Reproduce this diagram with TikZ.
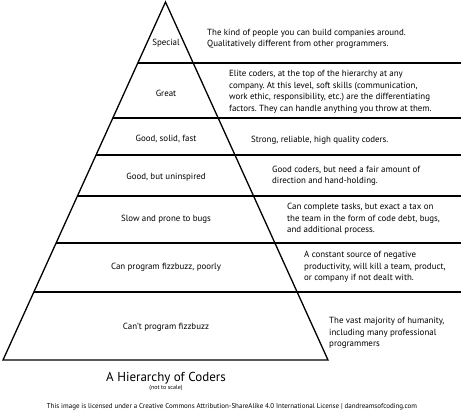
\documentclass[tikz,border=0pt]{standalone}
\usepackage{fontspec}
\setmainfont{PT Sans}
\usetikzlibrary{calc}
\frenchspacing
\begin{document}
\begin{tikzpicture}[x=1pt,y=-1pt,
  line/.style={line width=1.3pt},
  lvl/.style={font=\fontsize{8.9}{11.5}\selectfont, inner sep=0pt},
  desc/.style={font=\fontsize{8.9}{11.5}\selectfont\frenchspacing, inner sep=0pt, align=left, anchor=west}]
\path[use as bounding box] (0,0) rectangle (461,415);
\coordinate (A) at (165.5,2);
\coordinate (BL) at (3,360);
\coordinate (BR) at (328,360);
\draw[line, line join=miter] (BL) -- (A) -- (BR) -- cycle;
% horizontal dividers
\coordinate (L1) at ($(A)!0.1704!(BL)$);
\coordinate (L2) at ($(A)!0.3240!(BL)$);
\coordinate (L3) at ($(A)!0.4274!(BL)$);
\coordinate (L4) at ($(A)!0.5419!(BL)$);
\coordinate (L5) at ($(A)!0.6732!(BL)$);
\coordinate (L6) at ($(A)!0.8101!(BL)$);
\foreach \c in {L1,L2,L3,L4,L5,L6}{
  \draw[line] (\c) -- (\c -| 461,0);
}
% level labels
\node[lvl] (special) at (166,43) {Special};
\node[lvl] (great) at (166,93) {Great};
\node[lvl] (gsf) at (166,139) {Good, solid, fast};
\node[lvl] (gbu) at (166,177) {Good, but uninspired};
\node[lvl] (slow) at (166,219) {Slow and prone to bugs};
\node[lvl] (poor) at (166,267) {Can program fizzbuzz, poorly};
\node[lvl] (cant) at (166,327) {Can't program fizzbuzz};
% descriptions
\node[desc] (d1) at (207,39) {The kind of people you can build companies around.\\Qualitatively different from other programmers.};
\node[desc] (d2) at (229,92) {Elite coders, at the top of the hierarchy at any\\company. At this level, soft skills (communication,\\work ethic, responsibility, etc.) are the differentiating\\factors. They can handle anything you throw at them.};
\node[desc] (d3) at (251,140) {Strong, reliable, high quality coders.};
\node[desc] (d4) at (272,176) {Good coders, but need a fair amount of\\direction and hand-holding.};
\node[desc] (d5) at (287,219) {Can complete tasks, but exact a tax on\\the team in the form of code debt, bugs,\\and additional process.};
\node[desc] (d6) at (304,267) {A constant source of negative\\productivity, will kill a team, product,\\or company if not dealt with.};
\node[desc] (d7) at (329,333) {The vast majority of humanity,\\including many professional\\programmers};
% title
\node[inner sep=0pt, font=\fontsize{13}{14}\selectfont] (title) at (166,378) {A Hierarchy of Coders};
\node[inner sep=0pt, font=\fontsize{6}{6}\selectfont] (scale) at (166,388.5) {(not to scale)};
\node[inner sep=0pt, font=\fontsize{7}{7}\selectfont] (lic) at (232,407) {This image is licensed under a Creative Commons Attribution-ShareAlike 4.0 International License | dandreamsofcoding.com};
\end{tikzpicture}
\end{document}
